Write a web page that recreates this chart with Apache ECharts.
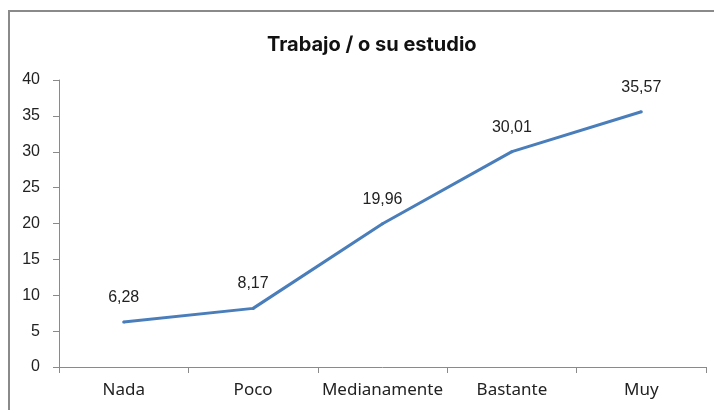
<!DOCTYPE html>
<html>
<head>
<meta charset="utf-8">
<script src="https://cdn.jsdelivr.net/npm/echarts@6/dist/echarts.min.js"></script>
<style>
  html, body { margin: 0; padding: 0; background: #fff; }
  #frame { position: absolute; left: 8px; top: 10px; width: 720px; height: 420px; border: 2px solid #8a8a8a; box-sizing: border-box; }
  #container { position: absolute; left: 0; top: 0; width: 714px; height: 410px; }
</style>
</head>
<body>
<div id="frame"></div>
<div id="container"></div>
<script>
// categorías y valores
const categories = ['Nada', 'Poco', 'Medianamente', 'Bastante', 'Muy']
const values = [6.28, 8.17, 19.96, 30.01, 35.57]
const yTicks = [0, 5, 10, 15, 20, 25, 30, 35, 40]

const myChart = echarts.init(document.getElementById('container'))
const option = {
  animation: false,
  title: {
    text: 'Trabajo / o su estudio',
    left: 262,
    top: 30,
    textStyle: { fontFamily: 'Inter', fontWeight: 'bold', fontSize: 20, color: '#111' }
  },
  grid: { left: 59, right: 8, top: 80, bottom: 43 },
  xAxis: {
    type: 'category',
    data: categories,
    boundaryGap: true,
    axisLine: { lineStyle: { color: '#8a8a8a', width: 1 } },
    axisTick: { show: true, length: 6, interval: 0, alignWithLabel: false, lineStyle: { color: '#8a8a8a' } },
    axisLabel: { interval: 0, margin: 15, fontFamily: 'Noto Sans', fontSize: 17, color: '#222' }
  },
  yAxis: {
    type: 'value',
    min: yTicks[0],
    max: yTicks[yTicks.length - 1],
    interval: 5,
    splitLine: { show: false },
    axisLine: { show: true, lineStyle: { color: '#8a8a8a', width: 1 } },
    axisTick: { show: true, length: 6, lineStyle: { color: '#8a8a8a' } },
    axisLabel: { margin: 19, fontFamily: 'Liberation Sans', fontSize: 16, color: '#222' }
  },
  series: [
    {
      type: 'line',
      data: values,
      symbol: 'circle',
      symbolSize: 3,
      showSymbol: true,
      itemStyle: { color: '#4a7ebb' },
      lineStyle: { color: '#4a7ebb', width: 3 },
      label: {
        show: true,
        position: 'top',
        distance: 15,
        fontFamily: 'Liberation Sans',
        fontSize: 16,
        color: '#222',
        formatter: (p) => p.value.toFixed(2).replace('.', ',')
      }
    }
  ]
}
myChart.setOption(option)
</script>
</body>
</html>
